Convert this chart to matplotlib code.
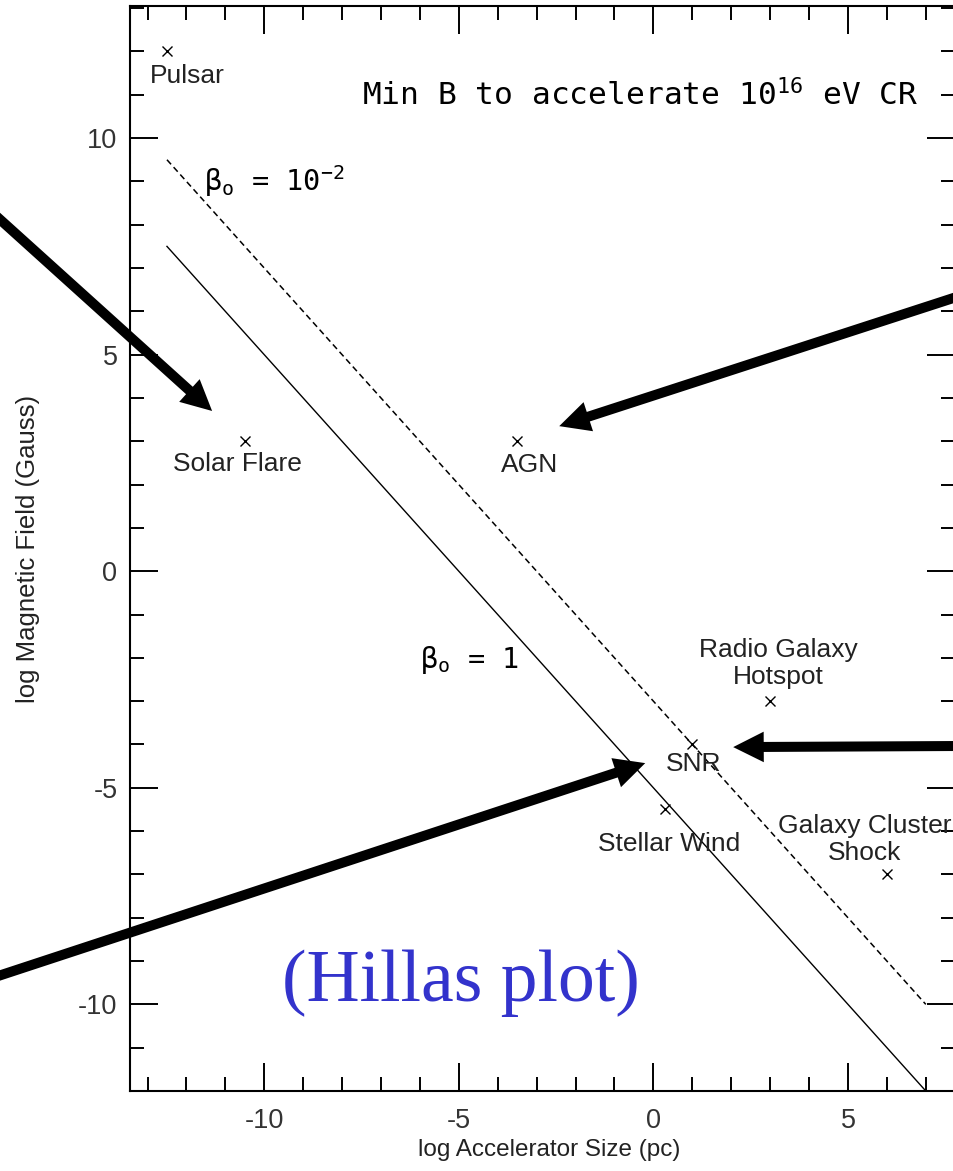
import numpy as np
import matplotlib
matplotlib.use('Agg')
import matplotlib.pyplot as plt
from matplotlib.ticker import MultipleLocator

# Hillas plot: log B (Gauss) vs log size (pc)
source_names = ['Pulsar', 'Solar Flare', 'AGN', 'Radio Galaxy\nHotspot', 'SNR',
                'Stellar Wind', 'Galaxy Cluster\nShock']
log_size = [-12.5, -10.5, -3.5, 3.0, 1.0, 0.3, 6.0]
log_field = [12.0, 3.0, 3.0, -3.0, -4.0, -5.5, -7.0]

# min B lines for 10^16 eV CR
line_size = [-12.5, 7.0]
field_beta_1 = [7.5, -12.0]
field_beta_001 = [9.5, -10.0]

# label offsets (points) relative to the markers
label_dx = [15, -5, 9, 6, 1, 3, -16]
label_dy = [-18, -16, -17, 27, -14, -25, 25]

plt.rcParams['axes.unicode_minus'] = False
plt.rcParams['mathtext.fontset'] = 'custom'
plt.rcParams['mathtext.rm'] = 'DejaVu Sans Mono'
plt.rcParams['mathtext.it'] = 'DejaVu Sans Mono'

fig = plt.figure(figsize=(9.54, 11.71), dpi=100)
ax = fig.add_axes([130 / 954, 80 / 1171, 825 / 954, 1085 / 1171])

ax.plot(line_size, field_beta_1, color='black', lw=1.0)
ax.plot(line_size, field_beta_001, color='black', lw=1.1, linestyle=(0, (4, 2.5)))
ax.plot(log_size, log_field, 'x', color='black', ms=7, mew=1.0)

for name, x, y, dx, dy in zip(source_names, log_size, log_field, label_dx, label_dy):
    ax.annotate(name, (x, y), xytext=(dx, dy), textcoords='offset points',
                ha='center', va='center', fontsize=19, color='#222222',
                family='Liberation Sans', linespacing=1.15)

mono = 'DejaVu Sans Mono'
ax.text(-7.5, 11.0, r'Min B to accelerate 10$^{16}$ eV CR', family=mono,
        fontsize=22.5, ha='left', va='center')
ax.text(-11.55, 9.0, r'$\beta_{\rm o}$ = 10$^{-2}$', family=mono,
        fontsize=20.5, ha='left', va='center')
ax.text(-6.0, -2.05, r'$\beta_{\rm o}$ = 1', family=mono,
        fontsize=20.5, ha='left', va='center')

ax.text(0.401, 0.0995, '(Hillas plot)', transform=ax.transAxes,
        family='Liberation Serif', fontsize=53, color='#3333cc',
        ha='center', va='center')

ax.set_xlim(-13.45, 7.75)
ax.set_ylim(-12.0, 13.05)
ax.xaxis.set_major_locator(MultipleLocator(5))
ax.xaxis.set_minor_locator(MultipleLocator(1))
ax.yaxis.set_major_locator(MultipleLocator(5))
ax.yaxis.set_minor_locator(MultipleLocator(1))
ax.tick_params(which='both', direction='in', top=True, right=True, width=1.4,
               labelsize=19.5, labelcolor='#333333')
ax.tick_params(which='major', length=20)
ax.tick_params(which='minor', length=10)
ax.tick_params(axis='x', pad=12)
ax.tick_params(axis='y', pad=9)
for sp in ax.spines.values():
    sp.set_linewidth(1.5)
for lab in ax.get_xticklabels() + ax.get_yticklabels():
    lab.set_family('Liberation Sans')

ax.set_xlabel('log Accelerator Size (pc)', fontsize=17.5, family='Liberation Sans',
              color='#222222', va='center')
ax.set_ylabel('log Magnetic Field (Gauss)', fontsize=18.5, family='Liberation Sans',
              color='#222222', va='center')
ax.xaxis.set_label_coords(0.508, -0.054)
ax.yaxis.set_label_coords(-0.124, 0.5)

# thick black pointer arrows laid over the chart
arrow_kw = dict(arrowstyle='simple,head_width=2.2,head_length=2.2,tail_width=0.72',
                mutation_scale=10, color='black', lw=0, shrinkA=0, shrinkB=0)
ax.annotate('', xy=(-11.34, 3.70), xytext=(-0.021, 0.828),
            textcoords='figure fraction', arrowprops=arrow_kw, annotation_clip=False)
ax.annotate('', xy=(-2.42, 3.35), xytext=(1.022, 0.7515),
            textcoords='figure fraction', arrowprops=arrow_kw, annotation_clip=False)
ax.annotate('', xy=(2.05, -4.06), xytext=(1.022, 0.363),
            textcoords='figure fraction', arrowprops=arrow_kw, annotation_clip=False)
ax.annotate('', xy=(-0.21, -4.43), xytext=(-0.021, 0.1614),
            textcoords='figure fraction', arrowprops=arrow_kw, annotation_clip=False)

fig.savefig('out.png', dpi=100)
